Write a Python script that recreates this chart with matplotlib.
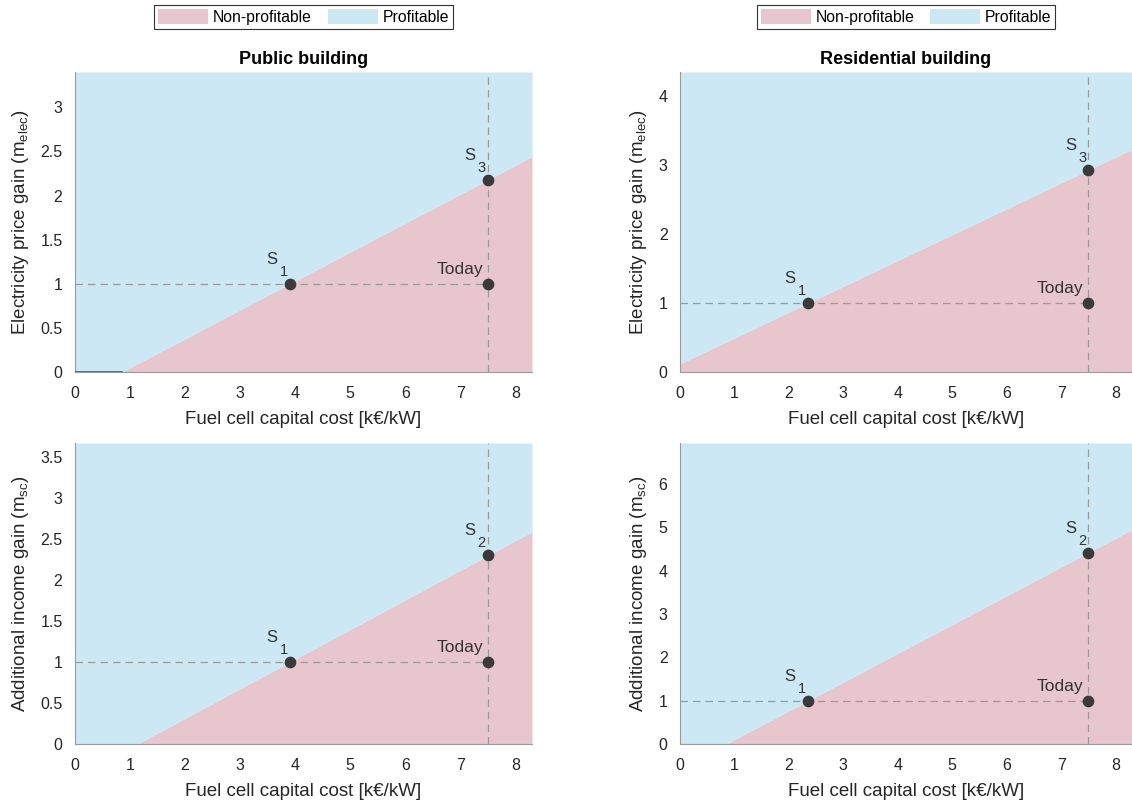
import matplotlib
matplotlib.use('Agg')
import matplotlib.pyplot as plt
from matplotlib.patches import Patch
import numpy as np

plt.rcParams['font.family'] = ['Liberation Sans', 'DejaVu Sans']
plt.rcParams['mathtext.fontset'] = 'custom'
plt.rcParams['mathtext.rm'] = 'Liberation Sans'
plt.rcParams['mathtext.it'] = 'Liberation Sans'

# data
titles = ['Public building', 'Residential building']
ylabels = ['Electricity price gain (m$_{elec}$)', 'Additional income gain (m$_{sc}$)']
today_cost = 7.5
x_max = 8.3

# per panel: S1 cost, scenario gain at today's cost, y-limit, y ticks, scenario name
s1_cost = [[3.9, 2.35], [3.9, 2.35]]
s_gain = [[2.18, 2.93], [2.30, 4.42]]
s_name = [['3', '3'], ['2', '2']]
y_lims = [[3.4, 4.35], [3.67, 6.95]]
y_ticks = [[[0, 0.5, 1, 1.5, 2, 2.5, 3], [0, 1, 2, 3, 4]],
           [[0, 0.5, 1, 1.5, 2, 2.5, 3, 3.5], [0, 1, 2, 3, 4, 5, 6]]]
x_ticks = [0, 1, 2, 3, 4, 5, 6, 7, 8]

pink = '#e8c6cd'
blue = '#cce8f5'
dot = '#3a3a3a'
dash = '#9a9a9a'
txt = '#333333'


def s_label(ax, x, y, sub):
    # MATLAB-like "S" with a lowered subscript, placed up-left of the point
    ax.annotate('S', (x, y), xytext=(-9.0, 14.4), textcoords='offset points',
                ha='right', va='baseline', fontsize=12, color=txt)
    ax.annotate(sub, (x, y), xytext=(-1.5, 5.8), textcoords='offset points',
                ha='right', va='baseline', fontsize=10.5, color=txt)


fig = plt.figure(figsize=(11.32, 8.02), dpi=100)
W, H = 1132, 802
boxes = [[(75, 72, 532, 372), (680, 72, 1132, 372)],
         [(75, 443, 532, 744), (680, 443, 1132, 744)]]

for r in range(2):
    for c in range(2):
        x0, y0, x1, y1 = boxes[r][c]
        ax = fig.add_axes([x0 / W, 1 - y1 / H, (x1 - x0) / W, (y1 - y0) / H])
        ymax = y_lims[r][c]
        # threshold line through S1 (cost, 1) and scenario point (7.5, gain)
        slope = (s_gain[r][c] - 1) / (today_cost - s1_cost[r][c])
        xs = np.linspace(0, x_max, 200)
        thr = 1 + slope * (xs - s1_cost[r][c])
        thr_c = np.clip(thr, 0, ymax)
        ax.fill_between(xs, 0, thr_c, color=pink, lw=0)
        ax.fill_between(xs, thr_c, ymax, color=blue, lw=0)
        if r == 0 and c == 0:
            x_zero = s1_cost[r][c] - 1 / slope
            ax.plot([0, x_zero], [0, 0], color='#555555', lw=1.2, zorder=3)

        ax.plot([0, today_cost], [1, 1], ls=(0, (6, 4)), color=dash, lw=0.9)
        ax.plot([today_cost, today_cost], [0, ymax], ls=(0, (6, 4)), color=dash, lw=0.9)

        pts_x = [s1_cost[r][c], today_cost, today_cost]
        pts_y = [1, 1, s_gain[r][c]]
        ax.scatter(pts_x, pts_y, s=55, color=dot, zorder=5)

        s_label(ax, s1_cost[r][c], 1, '1')
        s_label(ax, today_cost, s_gain[r][c], s_name[r][c])
        ax.annotate('Today', (today_cost, 1), xytext=(-3.6, 7.2), textcoords='offset points',
                    ha='right', va='baseline', fontsize=12.5, color=txt)

        ax.set_xlim(0, x_max)
        ax.set_ylim(0, ymax)
        ax.set_xticks(x_ticks)
        ax.set_yticks(y_ticks[r][c])
        ax.set_yticklabels([('%g' % v) for v in y_ticks[r][c]])
        ax.tick_params(length=0, labelsize=11.5, colors='#262626', pad=9)
        ax.tick_params(axis='x', pad=10)
        for s in ['top', 'right']:
            ax.spines[s].set_visible(False)
        for s in ['left', 'bottom']:
            ax.spines[s].set_color('#9a9a9a')
        ax.set_xlabel('Fuel cell capital cost [k€/kW]', fontsize=13.5, color='#262626',
                      labelpad=7)
        ax.set_ylabel(ylabels[r], fontsize=13.5, color='#262626', labelpad=7)
        if r == 0:
            ax.set_title(titles[c], fontsize=13, fontweight='bold', pad=6)
            handles = [Patch(facecolor=pink, label='Non-profitable'),
                       Patch(facecolor=blue, label='Profitable')]
            leg = fig.legend(handles=handles, ncol=2, loc='center',
                             bbox_to_anchor=((x0 + x1) / 2 / W, 1 - 17 / H),
                             fontsize=11.3, fancybox=False, edgecolor='#333333',
                             handlelength=3.2, handleheight=1.1, columnspacing=1.0,
                             handletextpad=0.3, borderpad=0.25, framealpha=1)
            leg.get_frame().set_linewidth(0.8)

fig.savefig('out.png', dpi=100)
